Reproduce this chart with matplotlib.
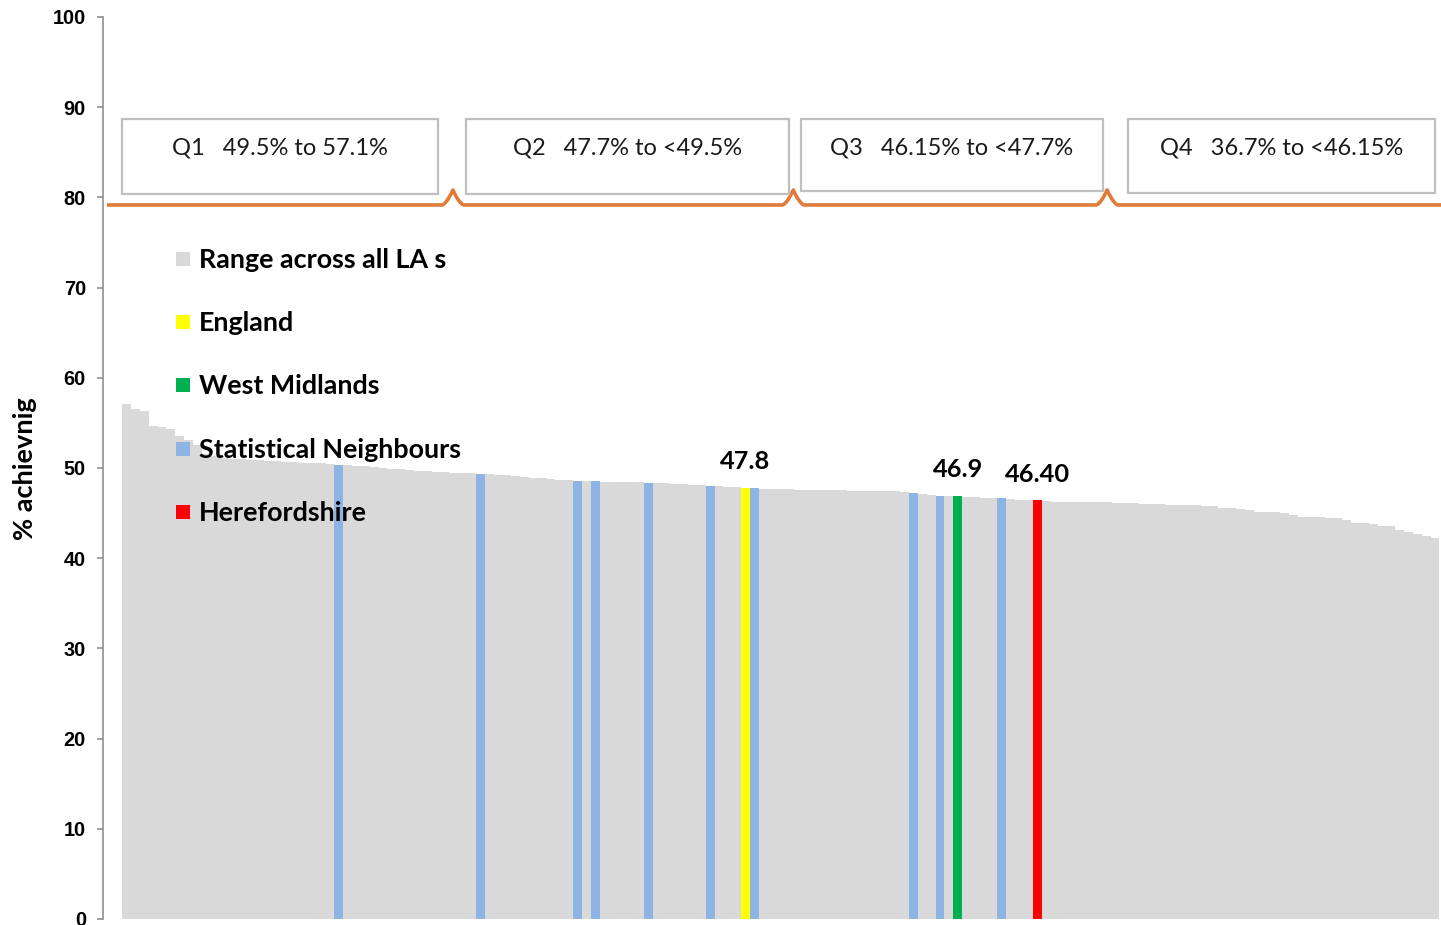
import numpy as np
import matplotlib
matplotlib.use("Agg")
import matplotlib.pyplot as plt
from matplotlib.patches import Rectangle

# ---------------- data ----------------
la_values = [
    57.1, 56.5, 56.3, 54.7, 54.6, 54.3, 53.5, 53.1, 52.6, 51.6,
    51.3, 51.1, 51.0, 51.0, 50.9, 50.9, 50.8, 50.8, 50.7, 50.7,
    50.6, 50.6, 50.5, 50.4, 50.3, 50.3, 50.2, 50.2, 50.1, 50.0,
    49.9, 49.9, 49.8, 49.7, 49.7, 49.6, 49.6, 49.5, 49.4, 49.4,
    49.3, 49.3, 49.2, 49.2, 49.1, 49.0, 48.9, 48.9, 48.8, 48.7,
    48.7, 48.6, 48.6, 48.6, 48.5, 48.5, 48.4, 48.4, 48.4, 48.3,
    48.3, 48.3, 48.2, 48.2, 48.1, 48.1, 48.0, 48.0, 47.9, 47.9,
    47.8, 47.8, 47.7, 47.7, 47.7, 47.7, 47.6, 47.6, 47.6, 47.6,
    47.6, 47.6, 47.5, 47.5, 47.5, 47.5, 47.4, 47.4, 47.3, 47.2,
    47.1, 47.0, 46.9, 46.9, 46.9, 46.8, 46.8, 46.7, 46.7, 46.7,
    46.6, 46.5, 46.5, 46.4, 46.3, 46.2, 46.2, 46.2, 46.2, 46.2,
    46.2, 46.2, 46.1, 46.1, 46.1, 46.0, 46.0, 46.0, 45.9, 45.9,
    45.9, 45.9, 45.8, 45.8, 45.6, 45.6, 45.45, 45.3, 45.1, 45.1,
    45.1, 45.0, 44.8, 44.6, 44.6, 44.6, 44.5, 44.5, 44.2, 43.9,
    43.9, 43.8, 43.6, 43.6, 43.1, 42.9, 42.7, 42.5, 42.2,
]
neighbour_idx = [24, 40, 51, 53, 59, 66, 71, 89, 92, 99]
england_idx = 70
west_midlands_idx = 94
hereford_idx = 103

value_labels = ["47.8", "46.9", "46.40"]
label_idx = [england_idx, west_midlands_idx, hereford_idx]

quartile_texts = ["Q1   49.5% to 57.1%", "Q2   47.7% to <49.5%",
                  "Q3   46.15% to <47.7%", "Q4   36.7% to <46.15%"]
quartile_breaks = [36.9, 75.4, 110.9]

legend_labels = ["Range across all LA s", "England", "West Midlands",
                 "Statistical Neighbours", "Herefordshire"]

y_ticks = [0, 10, 20, 30, 40, 50, 60, 70, 80, 90, 100]
y_label = "% achievnig"

# ---------------- style ----------------
GREY = "#D9D9D9"
BLUE = "#8DB4E2"
YELLOW = "#FFFF00"
GREEN = "#00B050"
RED = "#FF0000"
ORANGE = "#E07B39"
legend_colors = [GREY, YELLOW, GREEN, BLUE, RED]

W, H = 1441, 925
fig = plt.figure(figsize=(W / 100, H / 100), dpi=100)
ax = fig.add_axes([103 / W, 1 - 919 / H, 1 - 103 / W, (919 - 17) / H])

colors = [GREY] * len(la_values)
for i in neighbour_idx:
    colors[i] = BLUE
colors[england_idx] = YELLOW
colors[west_midlands_idx] = GREEN
colors[hereford_idx] = RED

x = np.arange(len(la_values))
ax.bar(x, la_values, width=1.0, color=colors, linewidth=0, zorder=2)

ax.set_xlim(-2.68, 148.67)
ax.set_ylim(0, 100)
ax.set_yticks(y_ticks)
ax.set_xticks([])
for s in ["top", "right", "bottom"]:
    ax.spines[s].set_visible(False)
ax.spines["left"].set_color("#868686")
ax.spines["left"].set_linewidth(1.1)
ax.tick_params(axis="y", direction="out", length=4.3, width=1.1,
               color="#868686", pad=8.0)
for lab in ax.get_yticklabels():
    lab.set_fontfamily("Liberation Sans")
    lab.set_fontweight("bold")
    lab.set_fontsize(14.3)

# value labels
for i, t in zip(label_idx, value_labels):
    ax.text(i, la_values[i] + 2.9, t, ha="center", va="center",
            fontsize=18.3, fontweight="bold", family="Lato", color="black",
            zorder=5)

# quartile boxes
box_x = [(-0.53, 35.21), (38.38, 74.92), (76.28, 110.44), (113.27, 148.0)]
box_bottom = [80.38, 80.38, 80.71, 80.49]
box_top = 88.69
for (x0, x1), yb, txt in zip(box_x, box_bottom, quartile_texts):
    ax.add_patch(Rectangle((x0, yb), x1 - x0, box_top - yb, facecolor="white",
                           edgecolor="#BFBFBF", linewidth=1.6, zorder=4,
                           clip_on=False))
    ax.text((x0 + x1) / 2, 85.45, txt, ha="center", va="center", fontsize=17,
            family="Lato", color="#1a1a1a", zorder=6)

# orange bracket line with peaks at quartile boundaries
base = 79.16
tip = 80.82
hw = 1.25
xs = [-2.23]
ys = [base]
for p in quartile_breaks:
    t = np.linspace(-1, 1, 41)
    xs.extend(p + t * hw)
    ys.extend(base + (tip - base) * (1 - np.abs(t)) ** 1.6)
xs.append(148.67)
ys.append(base)
ax.plot(xs, ys, color=ORANGE, linewidth=2.6, zorder=3, clip_on=False,
        solid_capstyle="butt")

# custom legend
rows = [259, 322, 385, 449, 512]
for ypx, lab, col in zip(rows, legend_labels, legend_colors):
    fig.patches.append(Rectangle((176 / W, 1 - (ypx + 7) / H), 14 / W, 14 / H,
                                 transform=fig.transFigure, facecolor=col,
                                 edgecolor="none", zorder=7))
    fig.text(199 / W, 1 - (ypx + 1) / H, lab, ha="left", va="center",
             fontsize=19.4, fontweight="bold", family="Lato", color="black",
             zorder=8)

fig.text(25 / W, 1 - 469 / H, y_label, rotation=90, ha="center", va="center",
         fontsize=19.5, fontweight="bold", family="Lato", color="black")

fig.savefig("out.png", dpi=100)
